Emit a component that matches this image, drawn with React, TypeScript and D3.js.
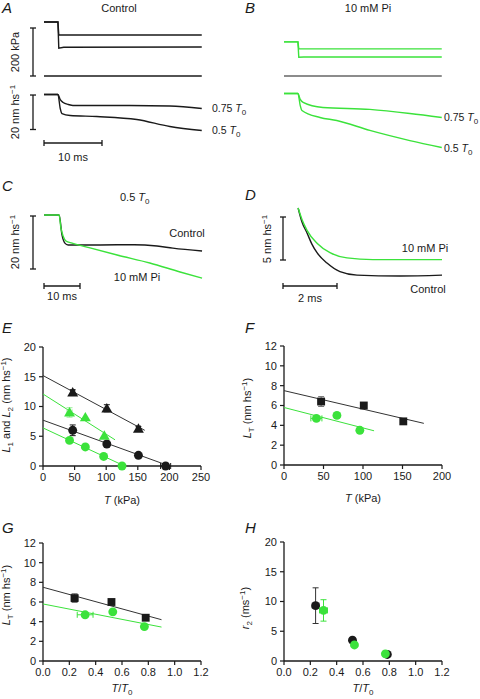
import React from 'react';
import * as d3 from 'd3';

type P = [number, number];
type Pt = { x: number; y: number; ex?: number; ey?: number };

// ---- Panel A (Control) traces: time (ms), force (kPa) / length (nm hs-1 shortening)
const forceA075: P[] = [[0, 225], [2.4, 225], [2.55, 171], [27.2, 171]];
const forceA05: P[] = [[0, 225], [2.4, 225], [2.55, 116], [3.4, 120], [27.2, 121]];
const forceABase: P[] = [[0, 0], [27.2, 0]];
const lengthA075: P[] = [[0, 0], [2.4, 0], [2.8, 2.9], [3.3, 4.6], [4.2, 5.7], [5.0, 6.3], [14.8, 6.3], [21.7, 6.6], [27.2, 8.0]];
const lengthA05: P[] = [[0, 0], [2.4, 0], [2.8, 8.0], [3.1, 10.9], [4.5, 12.0], [9.1, 12.6], [16.0, 14.3], [21.7, 18.3], [27.2, 20.6]];

// ---- Panel B (10 mM Pi)
const forceB075: P[] = [[0, 142], [2.4, 142], [2.55, 113], [27.2, 113]];
const forceB05: P[] = [[0, 142], [2.4, 142], [2.55, 78], [3.4, 79], [27.2, 79]];
const forceBBase: P[] = [[0, 0], [27.2, 0]];
const lengthB075: P[] = [[0, 0], [2.4, 0], [2.8, 3.4], [3.3, 5.1], [6.7, 8.0], [14.8, 9.1], [21.7, 11.4], [27.2, 13.7]];
const lengthB05: P[] = [[0, 0], [2.4, 0], [2.8, 6.9], [3.1, 9.7], [6.2, 13.7], [9.1, 15.4], [14.8, 21.1], [21.7, 26.9], [27.2, 30.9]];

// ---- Panel C (0.5 T0)
const controlC: P[] = [[0, 0], [4.2, 0], [5.0, 7.5], [5.8, 10.6], [6.7, 11.3], [15.6, 11.3], [25, 11.2], [31.4, 11.7], [35.8, 12.5], [43.9, 13.6]];
const piC: P[] = [[0, 0], [4.2, 0], [4.7, 4.9], [5.3, 7.9], [6.1, 9.8], [7.8, 10.6], [11.9, 12.1], [20.3, 15.1], [29.4, 18.1], [37.8, 21.5], [43.9, 23.8]];

// ---- Panel D
const controlD: P[] = [[0.56, 0], [0.7, 1.6], [0.89, 2.9], [1.07, 4.2], [1.26, 5.2], [1.63, 6.4], [2.11, 7.4], [2.74, 7.8], [4.33, 7.9], [5.89, 7.8]];
const piD: P[] = [[0.56, 0], [0.7, 1.3], [0.89, 2.6], [1.26, 4.1], [1.74, 5.2], [2.37, 5.8], [3.33, 6.0], [5.89, 6.0]];

// ---- Panel E
const eCtrlL1: Pt[] = [{ x: 47, y: 12.4, ex: 3, ey: 0.4 }, { x: 101, y: 9.7, ey: 0.6 }, { x: 151, y: 6.3, ex: 3, ey: 0.3 }];
const ePiL1: Pt[] = [{ x: 42, y: 9.0, ex: 4, ey: 0.8 }, { x: 67, y: 8.2 }, { x: 97, y: 5.1 }];
const eCtrlL2: Pt[] = [{ x: 47, y: 6.0, ex: 2, ey: 0.9 }, { x: 101, y: 3.7 }, { x: 151, y: 1.8 }, { x: 194, y: 0, ex: 8 }];
const ePiL2: Pt[] = [{ x: 42, y: 4.3 }, { x: 67, y: 3.2 }, { x: 96, y: 1.6 }, { x: 125, y: 0 }];
const eFitCtrlL1: P[] = [[0, 15.2], [161, 6.0]];
const eFitPiL1: P[] = [[0, 12.1], [114, 4.4]];
const eFitCtrlL2: P[] = [[0, 7.7], [200, 0]];
const eFitPiL2: P[] = [[0, 6.4], [129, 0]];
const eXTicks = [0, 50, 100, 150, 200, 250];
const eYTicks = [0, 5, 10, 15, 20];

// ---- Panel F
const fCtrl: Pt[] = [{ x: 47, y: 6.4, ex: 4, ey: 0.5 }, { x: 101, y: 6.0 }, { x: 151, y: 4.4 }];
const fPi: Pt[] = [{ x: 41, y: 4.7, ex: 7 }, { x: 67, y: 5.0 }, { x: 96, y: 3.5 }];
const fFitCtrl: P[] = [[0, 7.5], [177, 4.2]];
const fFitPi: P[] = [[0, 5.8], [114, 3.45]];
const fXTicks = [0, 50, 100, 150, 200];
const fYTicks = [0, 2, 4, 6, 8, 10, 12];

// ---- Panel G
const gCtrl: Pt[] = [{ x: 0.24, y: 6.4, ex: 0.025, ey: 0.45 }, { x: 0.52, y: 6.0 }, { x: 0.78, y: 4.4 }];
const gPi: Pt[] = [{ x: 0.32, y: 4.7, ex: 0.06 }, { x: 0.53, y: 5.0 }, { x: 0.77, y: 3.5 }];
const gFitCtrl: P[] = [[0, 7.5], [0.9, 4.2]];
const gFitPi: P[] = [[0, 5.8], [0.9, 3.45]];
const ratioTicks = [0, 0.2, 0.4, 0.6, 0.8, 1.0, 1.2];
const gYTicks = [0, 2, 4, 6, 8, 10, 12];

// ---- Panel H
const hCtrl: Pt[] = [{ x: 0.24, y: 9.3, ex: 0.025, ey: 3.0 }, { x: 0.52, y: 3.5 }, { x: 0.785, y: 1.1 }];
const hPi: Pt[] = [{ x: 0.30, y: 8.5, ex: 0.03, ey: 1.8 }, { x: 0.535, y: 2.7 }, { x: 0.77, y: 1.2 }];
const hYTicks = [0, 5, 10, 15, 20];

const GREEN = '#3be23b';
const LGREEN = '#9cef9c';
const FONT = '"Liberation Sans", Arial, Helvetica, sans-serif';
const INK = '#1a1a1a';

const lineGen = (x: d3.ScaleLinear<number, number>, y: d3.ScaleLinear<number, number>, curve = true) =>
  d3.line<P>().x(d => x(d[0])).y(d => y(d[1])).curve(curve ? d3.curveMonotoneX : d3.curveLinear);

function VBar({ x, y1, y2 }: { x: number; y1: number; y2: number }) {
  return (
    <g stroke={INK} strokeWidth={1.3}>
      <line x1={x} x2={x} y1={y1} y2={y2} />
      <line x1={x - 3} x2={x + 3} y1={y1} y2={y1} />
      <line x1={x - 3} x2={x + 3} y1={y2} y2={y2} />
    </g>
  );
}
function HBar({ y, x1, x2 }: { y: number; x1: number; x2: number }) {
  return (
    <g stroke={INK} strokeWidth={1.3}>
      <line x1={x1} x2={x2} y1={y} y2={y} />
      <line x1={x1} x2={x1} y1={y - 3} y2={y + 3} />
      <line x1={x2} x2={x2} y1={y - 3} y2={y + 3} />
    </g>
  );
}

function Axes({ x, y, xTicks, yTicks, xFmt, yFmt }: any) {
  const [x0, x1] = [x(xTicks[0]), x(xTicks[xTicks.length - 1])];
  const [y0, y1] = [y(yTicks[0]), y(yTicks[yTicks.length - 1])];
  return (
    <g fontFamily={FONT} fontSize={11} fill={INK}>
      <line x1={x0} x2={x1} y1={y0} y2={y0} stroke={INK} strokeWidth={1.3} />
      <line x1={x0} x2={x0} y1={y0} y2={y1} stroke={INK} strokeWidth={1.3} />
      {xTicks.map((t: number) => (
        <g key={'x' + t}>
          <line x1={x(t)} x2={x(t)} y1={y0} y2={y0 + 4} stroke={INK} strokeWidth={1.2} />
          <text x={x(t)} y={y0 + 15} textAnchor="middle">{xFmt ? xFmt(t) : t}</text>
        </g>
      ))}
      {yTicks.map((t: number) => (
        <g key={'y' + t}>
          <line x1={x0 - 4} x2={x0} y1={y(t)} y2={y(t)} stroke={INK} strokeWidth={1.2} />
          <text x={x0 - 7} y={y(t)} dy="0.35em" textAnchor="end">{yFmt ? yFmt(t) : t}</text>
        </g>
      ))}
    </g>
  );
}

function Markers({ data, x, y, color, shape, errColor }: any) {
  const sym = shape === 'tri' ? d3.symbolTriangle : shape === 'sq' ? d3.symbolSquare : d3.symbolCircle;
  const size = shape === 'tri' ? 52 : shape === 'sq' ? 62 : 62;
  const path = d3.symbol().type(sym).size(size)() as string;
  return (
    <g>
      {data.map((d: Pt, i: number) => (
        <g key={i}>
          {d.ey ? (
            <g stroke={errColor || color} strokeWidth={1}>
              <line x1={x(d.x)} x2={x(d.x)} y1={y(d.y - d.ey)} y2={y(d.y + d.ey)} />
              <line x1={x(d.x) - 3} x2={x(d.x) + 3} y1={y(d.y - d.ey)} y2={y(d.y - d.ey)} />
              <line x1={x(d.x) - 3} x2={x(d.x) + 3} y1={y(d.y + d.ey)} y2={y(d.y + d.ey)} />
            </g>
          ) : null}
          {d.ex ? (
            <g stroke={errColor || color} strokeWidth={1}>
              <line x1={x(d.x - d.ex)} x2={x(d.x + d.ex)} y1={y(d.y)} y2={y(d.y)} />
              <line x1={x(d.x - d.ex)} x2={x(d.x - d.ex)} y1={y(d.y) - 3} y2={y(d.y) + 3} />
              <line x1={x(d.x + d.ex)} x2={x(d.x + d.ex)} y1={y(d.y) - 3} y2={y(d.y) + 3} />
            </g>
          ) : null}
          <path d={path} transform={`translate(${x(d.x)},${y(d.y) + (shape === 'tri' ? 1 : 0)})`} fill={color} />
        </g>
      ))}
    </g>
  );
}

const Letter = ({ x, y, t }: { x: number; y: number; t: string }) => (
  <text x={x} y={y} fontFamily={FONT} fontStyle="italic" fontSize={15} fill={INK}>{t}</text>
);

const TLabel = ({ x, y, v }: { x: number; y: number; v: string }) => (
  <text x={x} y={y} fontFamily={FONT} fontSize={10.5} fill={INK}>
    {v} <tspan fontStyle="italic">T</tspan><tspan fontSize={8} dy={3}>0</tspan>
  </text>
);

const NmLabel = ({ x, y, pre }: { x: number; y: number; pre: string }) => (
  <text transform={`translate(${x},${y}) rotate(-90)`} textAnchor="middle" fontFamily={FONT} fontSize={11} fill={INK}>
    {pre} nm hs<tspan fontSize={8} dy={-4}>−1</tspan>
  </text>
);

export default function App() {
  // Panel A
  const xA = d3.scaleLinear().domain([0, 10]).range([44, 102]);
  const xB = d3.scaleLinear().domain([0, 10]).range([284, 342]);
  const yF = d3.scaleLinear().domain([0, 200]).range([76, 28]);
  const yAL = d3.scaleLinear().domain([0, 20]).range([94.5, 129.5]);
  const yBL = d3.scaleLinear().domain([0, 20]).range([93.5, 128.5]);
  // Panel C
  const xC = d3.scaleLinear().domain([0, 10]).range([44, 80]);
  const yC = d3.scaleLinear().domain([0, 20]).range([215, 268]);
  // Panel D
  const xD = d3.scaleLinear().domain([0, 2]).range([283, 337]);
  const yD = d3.scaleLinear().domain([0, 5]).range([208, 251]);
  // Panel E/F/G/H
  const xE = d3.scaleLinear().domain([0, 250]).range([43, 201]);
  const yE = d3.scaleLinear().domain([0, 20]).range([466, 347]);
  const xFp = d3.scaleLinear().domain([0, 200]).range([284, 442]);
  const yFp = d3.scaleLinear().domain([0, 12]).range([465, 346]);
  const xG = d3.scaleLinear().domain([0, 1.2]).range([43, 201]);
  const yG = d3.scaleLinear().domain([0, 12]).range([661, 543]);
  const xH = d3.scaleLinear().domain([0, 1.2]).range([284, 442]);
  const yH = d3.scaleLinear().domain([0, 20]).range([661, 542]);

  const fmt1 = (t: number) => t.toFixed(1);

  return (
    <svg width={480} height={699} style={{ position: 'absolute', left: 0, top: 0, background: '#fff' }}>
      <rect width={480} height={699} fill="#fff" />
      {/* ---------- A ---------- */}
      <Letter x={2} y={13} t="A" />
      <text x={119} y={12} textAnchor="middle" fontFamily={FONT} fontSize={11} fill={INK}>Control</text>
      <g fill="none" stroke={INK} strokeWidth={1.4}>
        <path d={lineGen(xA, yF, false)(forceA075)!} />
        <path d={lineGen(xA, yF, false)(forceA05)!} />
        <path d={lineGen(xA, yF, false)(forceABase)!} />
        <path d={lineGen(xA, yAL)(lengthA075)!} />
        <path d={lineGen(xA, yAL)(lengthA05)!} />
      </g>
      <VBar x={33} y1={yF(200)} y2={yF(0)} />
      <text transform="translate(19,52) rotate(-90)" textAnchor="middle" fontFamily={FONT} fontSize={11} fill={INK}>200 kPa</text>
      <VBar x={33} y1={yAL(0.3)} y2={yAL(20)} />
      <NmLabel x={19} y={112} pre="20" />
      <HBar y={143} x1={xA(0)} x2={xA(10)} />
      <text x={73} y={161} textAnchor="middle" fontFamily={FONT} fontSize={11} fill={INK}>10 ms</text>
      <TLabel x={212} y={112} v="0.75" />
      <TLabel x={212} y={134} v="0.5" />

      {/* ---------- B ---------- */}
      <Letter x={245} y={13} t="B" />
      <text x={368} y={12} textAnchor="middle" fontFamily={FONT} fontSize={11} fill={INK}>10 mM Pi</text>
      <g fill="none" stroke={GREEN} strokeWidth={1.4}>
        <path d={lineGen(xB, yF, false)(forceB075)!} />
        <path d={lineGen(xB, yF, false)(forceB05)!} />
        <path d={lineGen(xB, yBL)(lengthB075)!} />
        <path d={lineGen(xB, yBL)(lengthB05)!} />
      </g>
      <path d={lineGen(xB, yF, false)(forceBBase)!} fill="none" stroke="#666" strokeWidth={1.4} />
      <TLabel x={444} y={121} v="0.75" />
      <TLabel x={444} y={152} v="0.5" />

      {/* ---------- C ---------- */}
      <Letter x={2} y={191} t="C" />
      <text x={120} y={201} fontFamily={FONT} fontSize={11} fill={INK}>0.5 <tspan fontStyle="italic">T</tspan><tspan fontSize={8} dy={3}>0</tspan></text>
      <g fill="none" strokeWidth={1.4}>
        <path d={lineGen(xC, yC)(controlC)!} stroke={INK} />
        <path d={lineGen(xC, yC)(piC)!} stroke={GREEN} />
      </g>
      <VBar x={33} y1={216} y2={269} />
      <NmLabel x={19} y={242} pre="20" />
      <HBar y={286} x1={xC(0)} x2={xC(10)} />
      <text x={62} y={300} textAnchor="middle" fontFamily={FONT} fontSize={11} fill={INK}>10 ms</text>
      <text x={187} y={237} textAnchor="middle" fontFamily={FONT} fontSize={11} fill={INK}>Control</text>
      <text x={137} y={281} textAnchor="middle" fontFamily={FONT} fontSize={11} fill={INK}>10 mM Pi</text>

      {/* ---------- D ---------- */}
      <Letter x={245} y={200} t="D" />
      <g fill="none" strokeWidth={1.4}>
        <path d={lineGen(xD, yD)(controlD)!} stroke={INK} />
        <path d={lineGen(xD, yD)(piD)!} stroke={GREEN} />
      </g>
      <VBar x={283} y1={217} y2={260} />
      <NmLabel x={271} y={239} pre="5" />
      <HBar y={286} x1={xD(0)} x2={xD(2)} />
      <text x={310} y={302} textAnchor="middle" fontFamily={FONT} fontSize={11} fill={INK}>2 ms</text>
      <text x={425} y={252} textAnchor="middle" fontFamily={FONT} fontSize={11} fill={INK}>10 mM Pi</text>
      <text x={428} y={293} textAnchor="middle" fontFamily={FONT} fontSize={11} fill={INK}>Control</text>

      {/* ---------- E ---------- */}
      <Letter x={2} y={333} t="E" />
      <Axes x={xE} y={yE} xTicks={eXTicks} yTicks={eYTicks} />
      <g fill="none" strokeWidth={1}>
        <path d={lineGen(xE, yE, false)(eFitCtrlL1)!} stroke="#333" />
        <path d={lineGen(xE, yE, false)(eFitCtrlL2)!} stroke="#333" />
        <path d={lineGen(xE, yE, false)(eFitPiL1)!} stroke={GREEN} />
        <path d={lineGen(xE, yE, false)(eFitPiL2)!} stroke={GREEN} />
      </g>
      <Markers data={eCtrlL1} x={xE} y={yE} color={INK} shape="tri" />
      <Markers data={eCtrlL2} x={xE} y={yE} color={INK} shape="circle" />
      <Markers data={ePiL1} x={xE} y={yE} color={GREEN} errColor={LGREEN} shape="tri" />
      <Markers data={ePiL2} x={xE} y={yE} color={GREEN} shape="circle" />
      <text transform="translate(10,405) rotate(-90)" textAnchor="middle" fontFamily={FONT} fontSize={11} fill={INK}>
        <tspan fontStyle="italic">L</tspan><tspan fontSize={8} dy={3}>1</tspan><tspan dy={-3}> and </tspan>
        <tspan fontStyle="italic">L</tspan><tspan fontSize={8} dy={3}>2</tspan><tspan dy={-3}> (nm hs</tspan>
        <tspan fontSize={8} dy={-4}>−1</tspan><tspan dy={4}>)</tspan>
      </text>
      <text x={122} y={504} textAnchor="middle" fontFamily={FONT} fontSize={11} fill={INK}>
        <tspan fontStyle="italic">T</tspan> (kPa)
      </text>

      {/* ---------- F ---------- */}
      <Letter x={245} y={333} t="F" />
      <Axes x={xFp} y={yFp} xTicks={fXTicks} yTicks={fYTicks} />
      <g fill="none" strokeWidth={1}>
        <path d={lineGen(xFp, yFp, false)(fFitCtrl)!} stroke="#333" />
        <path d={lineGen(xFp, yFp, false)(fFitPi)!} stroke={GREEN} />
      </g>
      <Markers data={fCtrl} x={xFp} y={yFp} color={INK} errColor="#777" shape="sq" />
      <Markers data={fPi} x={xFp} y={yFp} color={GREEN} shape="circle" />
      <text transform="translate(251,408) rotate(-90)" textAnchor="middle" fontFamily={FONT} fontSize={11} fill={INK}>
        <tspan fontStyle="italic">L</tspan><tspan fontSize={8} dy={3}>T</tspan><tspan dy={-3}>  (nm hs</tspan>
        <tspan fontSize={8} dy={-4}>−1</tspan><tspan dy={4}>)</tspan>
      </text>
      <text x={363} y={502} textAnchor="middle" fontFamily={FONT} fontSize={11} fill={INK}>
        <tspan fontStyle="italic">T</tspan> (kPa)
      </text>

      {/* ---------- G ---------- */}
      <Letter x={2} y={533} t="G" />
      <Axes x={xG} y={yG} xTicks={ratioTicks} yTicks={gYTicks} xFmt={fmt1} />
      <g fill="none" strokeWidth={1}>
        <path d={lineGen(xG, yG, false)(gFitCtrl)!} stroke="#333" />
        <path d={lineGen(xG, yG, false)(gFitPi)!} stroke={GREEN} />
      </g>
      <Markers data={gCtrl} x={xG} y={yG} color={INK} errColor="#777" shape="sq" />
      <Markers data={gPi} x={xG} y={yG} color={GREEN} shape="circle" />
      <text transform="translate(10,595) rotate(-90)" textAnchor="middle" fontFamily={FONT} fontSize={11} fill={INK}>
        <tspan fontStyle="italic">L</tspan><tspan fontSize={8} dy={3}>T</tspan><tspan dy={-3}>  (nm hs</tspan>
        <tspan fontSize={8} dy={-4}>−1</tspan><tspan dy={4}>)</tspan>
      </text>
      <text x={122} y={692} textAnchor="middle" fontFamily={FONT} fontSize={11} fill={INK}>
        <tspan fontStyle="italic">T</tspan>/<tspan fontStyle="italic">T</tspan><tspan fontSize={8} dy={3}>0</tspan>
      </text>

      {/* ---------- H ---------- */}
      <Letter x={245} y={533} t="H" />
      <Axes x={xH} y={yH} xTicks={ratioTicks} yTicks={hYTicks} xFmt={fmt1} />
      <Markers data={hCtrl} x={xH} y={yH} color={INK} errColor="#333" shape="circle" />
      <Markers data={hPi} x={xH} y={yH} color={GREEN} shape="circle" />
      <text transform="translate(249,608) rotate(-90)" textAnchor="middle" fontFamily={FONT} fontSize={11} fill={INK}>
        <tspan fontStyle="italic">r</tspan><tspan fontSize={8} dy={3}>2</tspan><tspan dy={-3}>  (ms</tspan>
        <tspan fontSize={8} dy={-4}>−1</tspan><tspan dy={4}>)</tspan>
      </text>
      <text x={363} y={692} textAnchor="middle" fontFamily={FONT} fontSize={11} fill={INK}>
        <tspan fontStyle="italic">T</tspan>/<tspan fontStyle="italic">T</tspan><tspan fontSize={8} dy={3}>0</tspan>
      </text>
    </svg>
  );
}
